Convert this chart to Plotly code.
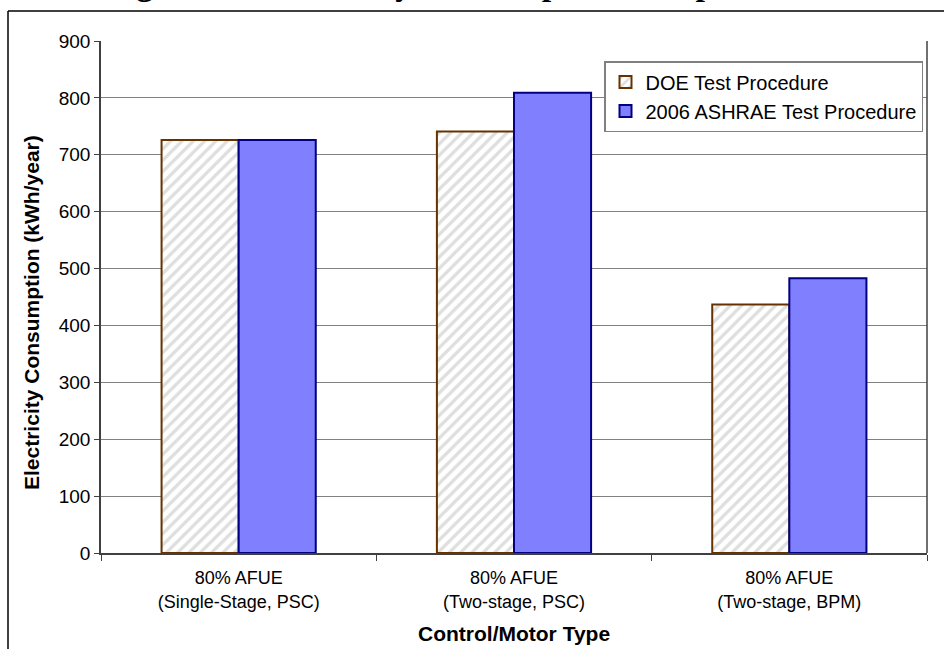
import plotly.graph_objects as go

categories = ["80% AFUE<br>(Single-Stage, PSC)", "80% AFUE<br>(Two-stage, PSC)", "80% AFUE<br>(Two-stage, BPM)"]
series_names = ["DOE Test Procedure", "2006 ASHRAE Test Procedure"]
doe_values = [726, 741, 437]
ashrae_values = [726, 809, 483]
y_ticks = [0, 100, 200, 300, 400, 500, 600, 700, 800, 900]
title_text = "Figure 5.3 Electricity Consumption Comparison"
x_title = "Control/Motor Type"
y_title = "Electricity Consumption (kWh/year)"

W, H = 944, 649
# plot area in screen pixels: x 101..927, y 41..553
L, R, T, B = 101, W - 927, 41, H - 553
pw, ph = W - L - R, H - T - B

def px_x(s):
    return (s - L) / pw

def px_y(s):
    return (H - B - s) / ph

fig = go.Figure()
fig.add_trace(go.Bar(
    x=categories, y=doe_values, name=series_names[0],
    marker=dict(color="white", line=dict(color="#663300", width=2),
                pattern=dict(shape="/", fgcolor="#bdbdbd", bgcolor="white", size=8, solidity=0.4)),
))
fig.add_trace(go.Bar(
    x=categories, y=ashrae_values, name=series_names[1],
    marker=dict(color="#8080FF", line=dict(color="#000080", width=2)),
))

fig.update_layout(
    width=W, height=H,
    margin=dict(l=L, r=R, t=T, b=B),
    paper_bgcolor="white", plot_bgcolor="white",
    barmode="group", bargap=0.44, bargroupgap=0,
    font=dict(family="Liberation Sans, Arial", size=18, color="black"),
    showlegend=True,
    legend=dict(x=px_x(604), y=px_y(61), xanchor="left", yanchor="top",
                bgcolor="white", bordercolor="#808080", borderwidth=1.5,
                font=dict(size=20), itemwidth=30, tracegroupgap=0),
    xaxis=dict(
        showgrid=False, showline=True, linecolor="#404040", linewidth=1.5,
        ticks="outside", tickson="boundaries", ticklen=6, tickcolor="#404040",
        tickfont=dict(size=18), ticklabelstandoff=8, automargin=False,
    ),
    yaxis=dict(
        range=[0, 900], tickvals=y_ticks, showgrid=True, gridcolor="#808080", gridwidth=1,
        showline=True, linecolor="#404040", linewidth=1.5,
        ticks="outside", ticklen=5, tickcolor="#404040",
        tickfont=dict(size=19), automargin=False,
        zeroline=False,
    ),
)

# axis titles
fig.add_annotation(text="<b>" + x_title + "</b>", xref="paper", yref="paper",
                   x=px_x(514), y=px_y(633), xanchor="center", yanchor="middle",
                   showarrow=False, font=dict(size=21))
fig.add_annotation(text="<b>" + y_title + "</b>", xref="paper", yref="paper",
                   x=px_x(31), y=px_y(313), xanchor="center", yanchor="middle",
                   textangle=-90, showarrow=False, font=dict(size=21))

# plot area right border
fig.add_shape(type="line", xref="paper", yref="paper", x0=1, x1=1, y0=0, y1=1,
              line=dict(color="#404040", width=1.5))
# outer chart frame (left & top visible)
fig.add_shape(type="line", xref="paper", yref="paper", x0=px_x(8), x1=px_x(8),
              y0=px_y(11), y1=px_y(700), line=dict(color="black", width=1.5))
fig.add_shape(type="line", xref="paper", yref="paper", x0=px_x(8), x1=px_x(1000),
              y0=px_y(11), y1=px_y(11), line=dict(color="black", width=1.5))

# partially visible title above the chart
fig.add_annotation(text="<b>" + title_text + "</b>", xref="paper", yref="paper",
                   x=px_x(455), y=px_y(-17), xanchor="center", yanchor="middle",
                   showarrow=False, font=dict(family="Liberation Serif", size=34, color="black"))

fig.write_html("out.html", config={"displayModeBar": False},
               post_script="document.body.style.margin='0';document.body.style.overflow='hidden';")
